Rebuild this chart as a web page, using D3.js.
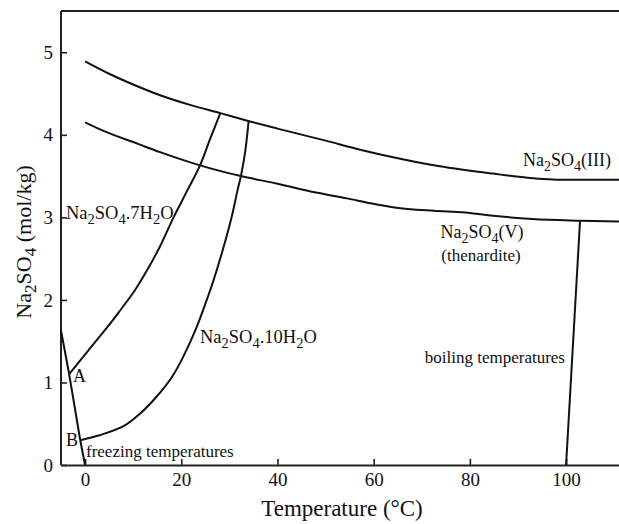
<!DOCTYPE html>
<html>
<head>
<meta charset="utf-8">
<script src="https://cdn.jsdelivr.net/npm/d3@7"></script>
<style>
  html, body { margin: 0; padding: 0; background: #fff; }
  svg { display: block; }
  text { font-family: "Liberation Serif", "Times New Roman", serif; fill: #111; }
</style>
</head>
<body>
<svg id="chart" width="619" height="524"></svg>
<script>
// Solubility of sodium sulfate phases: [temperature °C, molality mol/kg]
const thenarditeIII = [[0,4.89],[5,4.74],[10,4.61],[15.6,4.48],[22,4.36],[28.3,4.26],[34.1,4.165],[40,4.075],[50,3.93],[57.2,3.82],[64.3,3.725],[72.5,3.63],[84.8,3.53],[92,3.48],[99.6,3.455],[111,3.455]];
const thenarditeV  = [[0,4.15],[3.7,4.05],[11,3.89],[15.6,3.79],[23.9,3.63],[32.4,3.50],[39.8,3.41],[48,3.30],[54.5,3.23],[59.4,3.17],[64.3,3.12],[72.5,3.08],[79,3.06],[84.8,3.02],[93,2.98],[102.9,2.96],[111,2.95]];
const heptahydrate = [[-3.3,1.10],[0.7,1.39],[4.5,1.66],[7,1.85],[10.4,2.12],[13,2.37],[15.6,2.65],[18.4,3.0],[21.3,3.33],[23.9,3.63],[26,3.95],[28.1,4.26]];
const decahydrate  = [[-1.0,0.30],[3,0.36],[8,0.47],[11.4,0.62],[14.9,0.83],[18,1.06],[20.4,1.31],[23.2,1.67],[25.3,2.0],[26.5,2.2],[28.8,2.64],[30.5,3.01],[31.7,3.33],[32.4,3.50],[33.3,3.80],[34.0,4.165]];
const freezing     = [[-5,1.63],[-3.3,1.10],[-1.0,0.30],[0,0]];
const boiling      = [[100,0],[102.9,2.96]];

const xTicks = [0, 20, 40, 60, 80, 100];
const yTicks = [0, 1, 2, 3, 4, 5];

const svg = d3.select("#chart");
const plotLeft = 61, plotRight = 619, plotTop = 11, plotBottom = 465;

const x = d3.scaleLinear().domain([-5, 111]).range([plotLeft, plotRight]);
const y = d3.scaleLinear().domain([0, 5.5]).range([plotBottom, plotTop]);

// top frame line
svg.append("line")
  .attr("x1", plotLeft).attr("x2", plotRight).attr("y1", plotTop).attr("y2", plotTop)
  .attr("stroke", "#222").attr("stroke-width", 2);

// axes with inward ticks
const fmt = d3.format("d");
const xAxis = svg.append("g").attr("transform", `translate(0,${plotBottom})`)
  .call(d3.axisBottom(x).tickValues(xTicks).tickFormat(fmt).tickSizeInner(-6).tickSizeOuter(0).tickPadding(8));
const yAxis = svg.append("g").attr("transform", `translate(${plotLeft},0)`)
  .call(d3.axisLeft(y).tickValues(yTicks).tickFormat(fmt).tickSizeInner(-6).tickSizeOuter(0).tickPadding(8));

[xAxis, yAxis].forEach(g => {
  g.select(".domain").attr("stroke", "#222").attr("stroke-width", 2);
  g.selectAll(".tick line").attr("stroke", "#222").attr("stroke-width", 1.6);
  g.selectAll(".tick text").attr("font-family", "Liberation Serif").attr("font-size", 19).attr("fill", "#111");
});
yAxis.select(".domain").attr("d", `M0,${plotTop}V${plotBottom}`);

// phase boundary curves
const smoothX = d3.line().x(d => x(d[0])).y(d => y(d[1])).curve(d3.curveMonotoneX);
const smooth = d3.line().x(d => x(d[0])).y(d => y(d[1])).curve(d3.curveCatmullRom.alpha(0.5));
const straight = d3.line().x(d => x(d[0])).y(d => y(d[1]));

const curves = [
  [thenarditeIII, smoothX],
  [thenarditeV, smoothX],
  [heptahydrate, smooth],
  [decahydrate, smooth],
  [freezing, straight],
  [boiling, straight]
];
curves.forEach(([data, gen]) => {
  svg.append("path").datum(data)
    .attr("d", gen)
    .attr("fill", "none")
    .attr("stroke", "#111")
    .attr("stroke-width", 2)
    .attr("stroke-linejoin", "round");
});

// text with chemical subscripts written as "_2"
function chem(sel, str) {
  const parts = str.split(/(_\d)/).filter(s => s.length);
  let lowered = false;
  parts.forEach(p => {
    if (p.startsWith("_")) {
      sel.append("tspan").attr("font-size", "0.78em").attr("dy", 5).text(p.slice(1));
      lowered = true;
    } else {
      const t = sel.append("tspan").text(p);
      if (lowered) { t.attr("dy", -5); lowered = false; }
    }
  });
}

function label(str, px, py, size, anchor) {
  const t = svg.append("text")
    .attr("x", px).attr("y", py)
    .attr("font-size", size)
    .attr("text-anchor", anchor || "start");
  chem(t, str);
  return t;
}

label("Na_2SO_4(III)", 523, 166, 18);
label("Na_2SO_4(V)", 482, 238, 18, "middle");
label("(thenardite)", 481, 261, 17, "middle");
label("Na_2SO_4.7H_2O", 66, 219, 18.5);
label("Na_2SO_4.10H_2O", 200, 343, 18.5);
label("boiling temperatures", 565, 363, 17, "end");
label("freezing temperatures", 86, 457, 17);
label("A", 73, 382, 18);
label("B", 66, 446, 18);

// axis titles
svg.append("text")
  .attr("x", 342).attr("y", 516)
  .attr("text-anchor", "middle")
  .attr("font-size", 23)
  .text("Temperature (\u00B0C)");

const yTitle = svg.append("text")
  .attr("transform", "translate(31,242) rotate(-90)")
  .attr("text-anchor", "middle")
  .attr("font-size", 22);
chem(yTitle, "Na_2SO_4 (mol/kg)");
</script>
</body>
</html>
